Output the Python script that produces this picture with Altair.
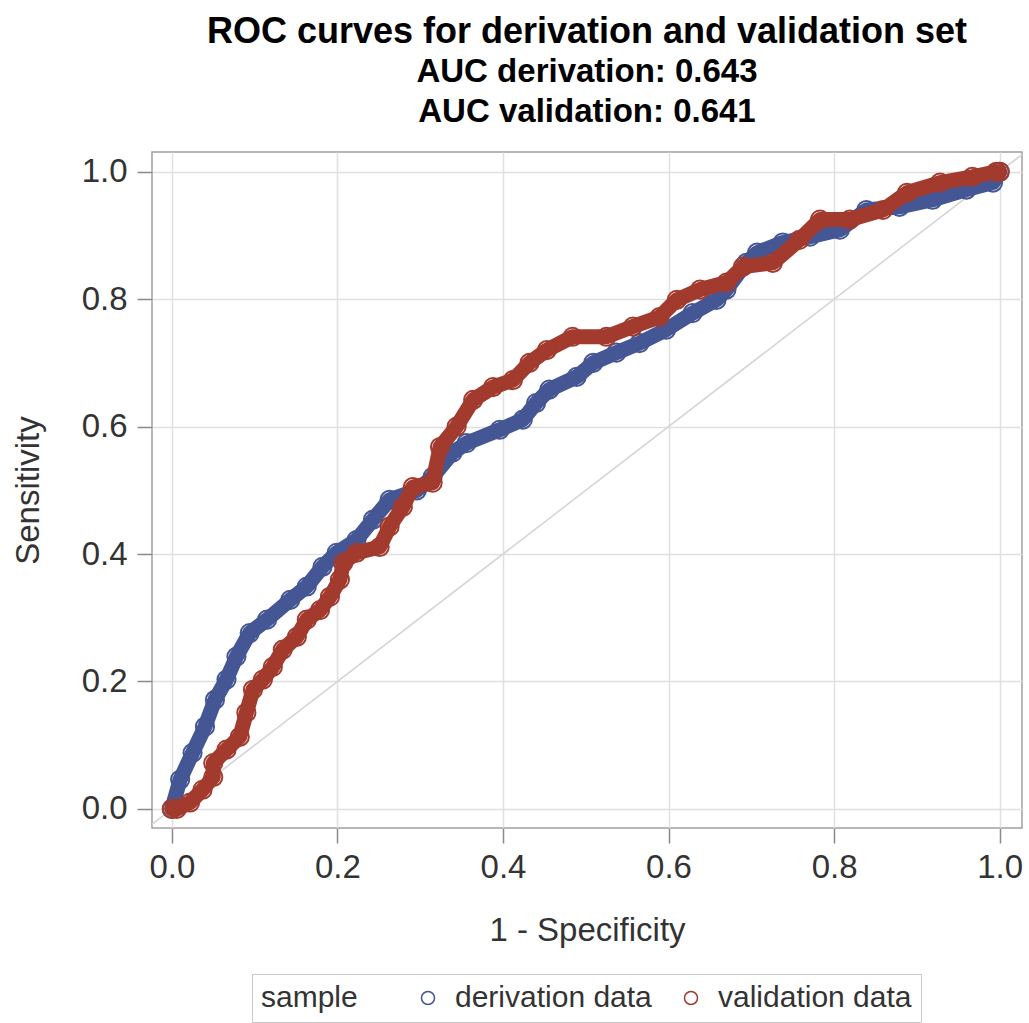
import altair as alt
import pandas as pd

# ---- data ----
deriv_x = [0.0, 0.01, 0.025, 0.04, 0.052, 0.066, 0.078, 0.094, 0.115, 0.143, 0.163, 0.182,
           0.199, 0.223, 0.243, 0.263, 0.296, 0.315, 0.339, 0.356, 0.396, 0.424, 0.44, 0.456,
           0.489, 0.509, 0.537, 0.565, 0.597, 0.629, 0.658, 0.67, 0.694, 0.707, 0.738, 0.771,
           0.807, 0.839, 0.879, 0.919, 0.96, 0.992, 1.0]
deriv_y = [0.0, 0.046, 0.088, 0.129, 0.171, 0.203, 0.239, 0.276, 0.297, 0.328, 0.349, 0.38,
           0.402, 0.422, 0.454, 0.485, 0.5, 0.521, 0.559, 0.574, 0.595, 0.611, 0.637, 0.658,
           0.678, 0.7, 0.716, 0.731, 0.752, 0.778, 0.799, 0.815, 0.857, 0.873, 0.889, 0.898,
           0.909, 0.94, 0.945, 0.956, 0.972, 0.983, 1.0]

valid_x = [0.0, 0.006, 0.022, 0.037, 0.05, 0.05, 0.066, 0.082, 0.09, 0.098, 0.11, 0.122,
           0.134, 0.151, 0.163, 0.179, 0.191, 0.203, 0.207, 0.223, 0.251, 0.263, 0.279, 0.291,
           0.315, 0.324, 0.344, 0.364, 0.388, 0.412, 0.432, 0.453, 0.484, 0.525, 0.557, 0.589,
           0.61, 0.638, 0.67, 0.69, 0.726, 0.758, 0.783, 0.819, 0.859, 0.888, 0.928, 0.967,
           0.996, 1.0]
valid_y = [0.0, 0.0, 0.01, 0.03, 0.05, 0.072, 0.093, 0.113, 0.151, 0.187, 0.203, 0.223,
           0.25, 0.27, 0.297, 0.312, 0.333, 0.36, 0.386, 0.402, 0.411, 0.443, 0.474, 0.505,
           0.512, 0.568, 0.6, 0.642, 0.662, 0.673, 0.7, 0.72, 0.741, 0.741, 0.757, 0.772,
           0.799, 0.815, 0.826, 0.851, 0.857, 0.893, 0.925, 0.925, 0.94, 0.967, 0.983, 0.992,
           1.0, 1.0]

diag_vals = [-0.05, 1.05]
series_names = ["derivation data", "validation data"]
series_colors = ["#445694", "#A23A2E"]
tick_values = [0.0, 0.2, 0.4, 0.6, 0.8, 1.0]

FONT = "Liberation Sans"

df = pd.concat([
    pd.DataFrame({"fpr": deriv_x, "tpr": deriv_y, "sample": series_names[0],
                  "i": range(len(deriv_x))}),
    pd.DataFrame({"fpr": valid_x, "tpr": valid_y, "sample": series_names[1],
                  "i": range(len(valid_x))}),
], ignore_index=True)
diag_df = pd.DataFrame({"fpr": diag_vals, "tpr": diag_vals})

xs = alt.Scale(domain=[-0.024, 1.027], nice=False, zero=False)
ys = alt.Scale(domain=[-0.03, 1.031], nice=False, zero=False)
X = alt.X("fpr:Q", scale=xs, axis=alt.Axis(values=tick_values, format=".1f", title="1 - Specificity"))
Y = alt.Y("tpr:Q", scale=ys, axis=alt.Axis(values=tick_values, format=".1f", title="Sensitivity"))
cscale = alt.Scale(domain=series_names, range=series_colors)

diag = alt.Chart(diag_df).mark_line(color="#d6d6d6", strokeWidth=1.6, clip=True).encode(x=X, y=Y)

layers = [diag]
for name, col in zip(series_names, series_colors):
    base = alt.Chart(df).transform_filter(alt.datum.sample == name)
    band = base.mark_line(strokeWidth=15, strokeJoin="round", strokeCap="round", color=col).encode(
        x=X, y=Y, order="i:Q")
    pts = base.mark_point(shape="circle", filled=False, size=330, strokeWidth=2, opacity=1).encode(
        x=X, y=Y,
        color=alt.Color("sample:N", scale=cscale, legend=alt.Legend(title="sample")))
    layers += [band, pts]

chart = alt.layer(*layers).properties(
    width=870, height=676,
    autosize=alt.AutoSizeParams(type="none"),
    padding={"left": 152, "top": 152, "right": 7, "bottom": 195},
    title=alt.Title(
        "ROC curves for derivation and validation set",
        subtitle=["AUC derivation: 0.643", "AUC validation: 0.641"],
        anchor="middle", font=FONT, fontSize=36, fontWeight="bold", color="black",
        subtitleFont=FONT, subtitleFontSize=33, subtitleFontWeight="bold",
        subtitleColor="black", subtitleLineHeight=40, subtitlePadding=5, offset=22),
).configure(background="white").configure_view(
    stroke="#a0a0a0", strokeWidth=1.5
).configure_axis(
    labelFont=FONT, labelFontSize=33, labelColor="#333333",
    titleFont=FONT, titleFontSize=33, titleFontWeight="normal", titleColor="#333333",
    grid=True, gridColor="#e0e0e0", gridWidth=1.5, domain=False,
    tickColor="#8a8a8a", tickSize=15, tickWidth=1.5,
).configure_axisX(
    labelPadding=8, titleY=102, titleBaseline="middle"
).configure_axisY(
    labelPadding=10, titleX=-124, titleBaseline="middle", titleAngle=-90
).configure_legend(
    orient="none", legendX=100, legendY=822, direction="horizontal",
    titleOrient="left", titleFont=FONT, titleFontSize=30, titleFontWeight="normal",
    titleColor="#333333", titlePadding=55,
    labelFont=FONT, labelFontSize=30, labelColor="#333333", labelOffset=12, labelLimit=500,
    symbolType="circle", symbolSize=170, symbolStrokeWidth=1.5, columnPadding=24,
    padding=9, strokeColor="#c8c8c8", fillColor="white",
)

chart.save("out.html", embed_options={"renderer": "svg", "actions": False})
